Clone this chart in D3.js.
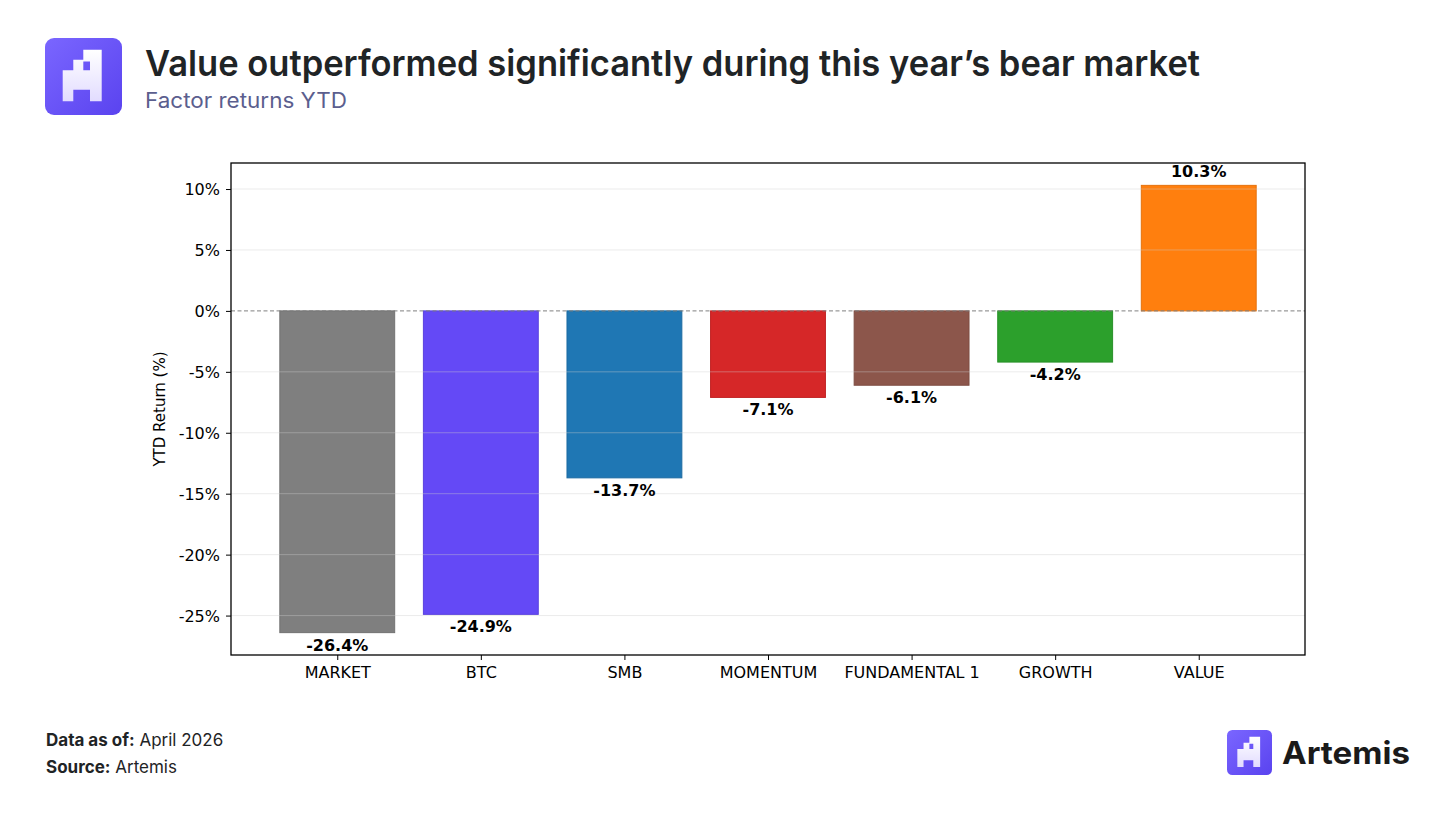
<!DOCTYPE html>
<html>
<head>
<meta charset="utf-8">
<script src="https://cdn.jsdelivr.net/npm/d3@7"></script>
<style>
  body { margin: 0; background: #fff; }
  svg { display: block; }
</style>
</head>
<body>
<div id="visualization"></div>
<script>
// factor returns YTD
let factors = ["MARKET", "BTC", "SMB", "MOMENTUM", "FUNDAMENTAL 1", "GROWTH", "VALUE"]
let returns = [-26.4, -24.9, -13.7, -7.1, -6.1, -4.2, 10.3]
let barColors = ["#7f7f7f", "#6449f6", "#1f77b4", "#d62728", "#8c564b", "#2ca02c", "#ff7f0e"]
let yTicks = [10, 5, 0, -5, -10, -15, -20, -25]

let data = factors.map((f, i) => ({factor: f, value: returns[i], color: barColors[i], idx: i}))

var W = 1456, H = 819
// plot box (matplotlib axes)
var margin = {top: 163, right: 151, bottom: 164, left: 231},
    width = W - margin.left - margin.right,
    height = H - margin.top - margin.bottom

var svg = d3.select("#visualization")
  .append("svg")
    .attr("width", W)
    .attr("height", H)

// logo mark: rounded square with pixel "A"
function logo(g, size) {
  let s = size / 77
  let grad = "lg" + size
  let grad2 = "la" + size
  let defs = g.append("defs")
  let lg = defs.append("linearGradient").attr("id", grad)
    .attr("x1", 0).attr("y1", 0).attr("x2", 1).attr("y2", 1)
  lg.append("stop").attr("offset", "0%").attr("stop-color", "#7a66ff")
  lg.append("stop").attr("offset", "100%").attr("stop-color", "#5a43ef")
  let la = defs.append("linearGradient").attr("id", grad2)
    .attr("x1", 0).attr("y1", 0).attr("x2", 0).attr("y2", 1)
  la.append("stop").attr("offset", "0%").attr("stop-color", "#ffffff")
  la.append("stop").attr("offset", "100%").attr("stop-color", "#e2dcff")
  g.append("rect").attr("width", size).attr("height", size)
    .attr("rx", 9 * s).attr("fill", `url(#${grad})`)
  let p = [[17.7,32.3],[28.3,32.3],[28.3,21.7],[38.3,21.7],[38.3,11.7],[56.7,11.7],
           [56.7,63.3],[45,63.3],[45,51.7],[28.3,51.7],[28.3,63.3],[17.7,63.3]]
  let hole = [[38.3,23.5],[45,23.5],[45,32.3],[38.3,32.3]]
  let toPath = pts => "M" + pts.map(q => (q[0]*s) + "," + (q[1]*s)).join("L") + "Z"
  g.append("path").attr("d", toPath(p) + toPath(hole))
    .attr("fill-rule", "evenodd").attr("fill", `url(#${grad2})`)
}

logo(svg.append("g").attr("transform", "translate(45,38)"), 77)
logo(svg.append("g").attr("transform", "translate(1227,730)"), 45)

svg.append("text")
  .attr("x", 145).attr("y", 76)
  .attr("textLength", 1055).attr("lengthAdjust", "spacingAndGlyphs")
  .style("font-family", "Inter, sans-serif").style("font-weight", 600)
  .style("font-size", "36px").style("fill", "#1f2426")
  .text("Value outperformed significantly during this year’s bear market")

svg.append("text")
  .attr("x", 145).attr("y", 108)
  .attr("textLength", 202).attr("lengthAdjust", "spacingAndGlyphs")
  .style("font-family", "Inter, sans-serif").style("font-size", "21px")
  .style("fill", "#5b5e8e")
  .text("Factor returns YTD")

// footer
let foot = [["Data as of:", "April 2026", 746], ["Source:", "Artemis", 773]]
foot.forEach(f => {
  let t = svg.append("text").attr("x", 46).attr("y", f[2])
    .style("font-family", "Inter, sans-serif").style("font-size", "17px").style("fill", "#1f2426")
  t.append("tspan").style("font-weight", 700).text(f[0])
  t.append("tspan").text(" " + f[1])
})

svg.append("text")
  .attr("x", 1282).attr("y", 764)
  .attr("textLength", 128).attr("lengthAdjust", "spacingAndGlyphs")
  .style("font-family", "Inter, sans-serif").style("font-weight", 700)
  .style("font-size", "31px").style("fill", "#1a1a1a")
  .text("Artemis")

var plot = svg.append("g")
  .attr("transform", `translate(${margin.left}, ${margin.top})`)

var x = d3.scaleLinear()
  .domain([-0.74, factors.length - 1 + 0.74])
  .range([0, width])

var y = d3.scaleLinear()
  .domain([-28.235, 12.135])
  .range([height, 0])

var barW = x(0.8) - x(0)

// bars
plot.selectAll("rect.bar")
  .data(data)
  .join("rect")
  .attr("class", "bar")
  .attr("x", d => x(d.idx) - barW / 2)
  .attr("width", barW)
  .attr("y", d => y(Math.max(0, d.value)))
  .attr("height", d => Math.abs(y(d.value) - y(0)))
  .attr("fill", d => d.color)
  .attr("stroke", d => d3.color(d.color).darker(0.3))
  .attr("stroke-width", 1)

// grid (drawn faintly over bars)
plot.selectAll("line.grid")
  .data(yTicks.filter(t => t !== 0))
  .join("line")
  .attr("class", "grid")
  .attr("x1", 0).attr("x2", width)
  .attr("y1", d => y(d)).attr("y2", d => y(d))
  .attr("stroke", "#cccccc").attr("stroke-opacity", 0.4).attr("stroke-width", 1)

// zero line
plot.append("line")
  .attr("x1", 0).attr("x2", width)
  .attr("y1", y(0)).attr("y2", y(0))
  .attr("stroke", "#808080").attr("stroke-width", 1)
  .attr("stroke-dasharray", "4,2.5")

// value labels
plot.selectAll("text.val")
  .data(data)
  .join("text")
  .attr("class", "val")
  .attr("x", d => x(d.idx))
  .attr("y", d => d.value >= 0 ? y(d.value) - 8 : y(d.value) + 18)
  .attr("text-anchor", "middle")
  .style("font-family", "'DejaVu Sans', sans-serif").style("font-weight", "bold")
  .style("font-size", "16px").style("fill", "#000")
  .text(d => d.value.toFixed(1) + "%")

// axes
let xAxis = plot.append("g")
  .attr("transform", `translate(0, ${height})`)
  .call(d3.axisBottom(x).tickValues(d3.range(factors.length)).tickFormat(i => factors[i]).tickSize(5).tickPadding(7))
let yAxis = plot.append("g")
  .call(d3.axisLeft(y).tickValues(yTicks).tickFormat(d => d + "%").tickSize(5).tickPadding(6))

;[xAxis, yAxis].forEach(a => {
  a.select(".domain").remove()
  a.selectAll("line").attr("stroke", "#000").attr("stroke-width", 1)
  a.selectAll("text").style("font-family", "'DejaVu Sans', sans-serif")
    .style("font-size", "16px").style("fill", "#000")
})
yAxis.selectAll("text").attr("dy", "0.35em")

// frame
plot.append("rect")
  .attr("width", width).attr("height", height)
  .attr("fill", "none").attr("stroke", "#000").attr("stroke-width", 1.3)

plot.append("text")
  .attr("transform", `translate(-66, ${height / 2}) rotate(-90)`)
  .attr("text-anchor", "middle")
  .style("font-family", "'DejaVu Sans', sans-serif").style("font-size", "15px")
  .text("YTD Return (%)")
</script>
</body>
</html>
